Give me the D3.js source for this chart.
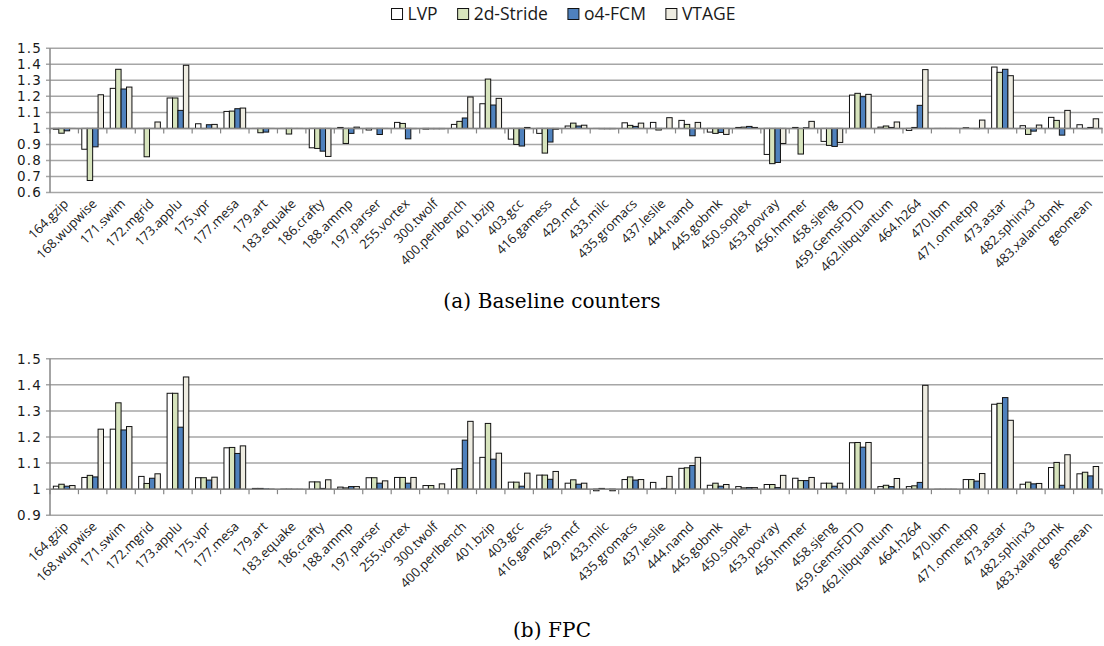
<!DOCTYPE html>
<html>
<head>
<meta charset="utf-8">
<script src="https://cdn.jsdelivr.net/npm/d3@7"></script>
<style>
  html, body { margin: 0; padding: 0; background: #ffffff; }
  svg { display: block; }
</style>
</head>
<body>
<svg id="chart" width="1104" height="646"></svg>
<script>
// ---------- DATA ----------
const categories = ["164.gzip","168.wupwise","171.swim","172.mgrid","173.applu","175.vpr","177.mesa","179.art","183.equake","186.crafty","188.ammp","197.parser","255.vortex","300.twolf","400.perlbench","401.bzip","403.gcc","416.gamess","429.mcf","433.milc","435.gromacs","437.leslie","444.namd","445.gobmk","450.soplex","453.povray","456.hmmer","458.sjeng","459.GemsFDTD","462.libquantum","464.h264","470.lbm","471.omnetpp","473.astar","482.sphinx3","483.xalancbmk","geomean"];
const seriesNames = ["LVP","2d-Stride","o4-FCM","VTAGE"];

// (a) Baseline counters
const lvpA    = [0.995,0.87,1.25,1.0,1.19,1.029,1.106,1.0,1.0,0.879,1.006,0.99,1.0375,0.996,1.025,1.154,0.933,0.969,1.015,1.0,1.035,1.0375,1.05,0.977,1.006,0.8375,1.006,0.919,1.208,1.008,0.9875,1.0,1.004,1.383,1.017,1.069,1.023];
const strideA = [0.97,0.675,1.369,0.823,1.19,0.998,1.108,0.973,0.965,0.875,0.906,1.0,1.031,0.997,1.044,1.308,0.9,0.846,1.033,0.997,1.019,0.99,1.025,0.969,1.008,0.78,0.84,0.894,1.219,1.015,1.006,1.0,1.0,1.35,0.9625,1.05,0.998];
const fcmA    = [0.985,0.885,1.246,1.0,1.1125,1.023,1.123,0.977,1.0,0.858,0.969,0.962,0.935,0.997,1.065,1.146,0.89,0.915,1.015,0.997,1.0125,1.0,0.954,0.975,1.0125,0.7875,1.004,0.8875,1.198,1.006,1.144,1.0,0.998,1.369,0.983,0.958,1.006];
const vtageA  = [1.0,1.21,1.258,1.04,1.394,1.025,1.127,1.0,1.0,0.825,1.008,1.0,0.998,0.997,1.196,1.1875,1.006,0.995,1.02,0.997,1.033,1.067,1.0375,0.9625,1.006,0.906,1.044,0.9125,1.2125,1.04,1.367,1.0,1.052,1.329,1.021,1.1125,1.06];

// (b) FPC
const lvpB    = [1.0115,1.045,1.23,1.049,1.3675,1.044,1.1586,1.003,1.001,1.028,1.008,1.044,1.045,1.014,1.077,1.122,1.027,1.054,1.023,0.994,1.037,1.026,1.08,1.015,1.01,1.018,1.042,1.023,1.178,1.01,1.01,1.0,1.037,1.3255,1.019,1.083,1.059];
const strideB = [1.019,1.053,1.331,1.022,1.3675,1.044,1.16,1.003,1.001,1.028,1.005,1.044,1.045,1.014,1.079,1.252,1.027,1.054,1.036,1.003,1.047,1.001,1.082,1.023,1.005,1.018,1.033,1.023,1.179,1.015,1.013,1.0,1.037,1.329,1.027,1.1026,1.065];
const fcmB    = [1.0115,1.047,1.227,1.042,1.2376,1.035,1.137,1.002,1.0,1.003,1.01,1.023,1.023,1.001,1.188,1.115,1.0115,1.038,1.019,0.999,1.035,1.003,1.091,1.0115,1.006,1.006,1.033,1.0115,1.161,1.01,1.026,1.0,1.031,1.351,1.0205,1.015,1.051];
const vtageB  = [1.014,1.23,1.24,1.059,1.43,1.046,1.166,1.001,1.0,1.036,1.01,1.032,1.045,1.0205,1.26,1.138,1.0615,1.068,1.023,0.994,1.037,1.049,1.122,1.018,1.006,1.053,1.045,1.023,1.179,1.041,1.398,1.0,1.06,1.264,1.022,1.132,1.087];

const ticksA = ["0.6","0.7","0.8","0.9","1","1.1","1.2","1.3","1.4","1.5"];
const ticksB = ["0.9","1","1.1","1.2","1.3","1.4","1.5"];
const captions = ["(a) Baseline counters", "(b) FPC"];

// ---------- STYLE ----------
const colors = ["#ffffff", "#d7e4bd", "#4f81bd", "#eeece1"];
const sansFont = "'Open Sans', 'Noto Sans', sans-serif";
const tickFont = "'DejaVu Sans', 'Liberation Sans', sans-serif";
const serifFont = "'DejaVu Serif', 'Liberation Serif', serif";

const svg = d3.select("#chart");

const x = d3.scaleBand().domain(categories).range([50, 1102]).padding(0);
const xs = d3.scaleBand().domain(seriesNames).range([0, x.bandwidth()]).paddingInner(0).paddingOuter(0.62);

function drawPanel(cfg) {
  const g = svg.append("g");
  const y = d3.scaleLinear().domain(cfg.domain).range(cfg.range);
  const rows = categories.map((c, i) => ({ cat: c, vals: cfg.series.map(s => s[i]) }));

  // gridlines
  g.append("g").selectAll("line").data(cfg.ticks).join("line")
    .attr("x1", 46).attr("x2", 1103)
    .attr("y1", d => y(+d)).attr("y2", d => y(+d))
    .attr("stroke", "#a6a6a6").attr("stroke-width", 1.5);

  // y axis line
  g.append("line").attr("x1", 50).attr("x2", 50)
    .attr("y1", cfg.range[0]).attr("y2", cfg.range[1])
    .attr("stroke", "#868686").attr("stroke-width", 1.5);

  // y labels
  g.append("g").selectAll("text").data(cfg.ticks).join("text")
    .attr("x", 42).attr("y", d => y(+d)).attr("dy", "0.37em")
    .attr("text-anchor", "end")
    .attr("font-family", tickFont).attr("font-size", 13.5).attr("letter-spacing", 1.2)
    .attr("fill", "#1a1a1a")
    .text(d => d);

  // bars
  const groups = g.append("g").selectAll("g").data(rows).join("g")
    .attr("transform", d => `translate(${x(d.cat)},0)`);
  groups.selectAll("rect").data(d => d.vals.map((v, k) => ({ v, k }))).join("rect")
    .attr("x", d => xs(seriesNames[d.k]))
    .attr("width", xs.bandwidth())
    .attr("y", d => Math.min(y(d.v), y(1)))
    .attr("height", d => Math.max(Math.abs(y(d.v) - y(1)), 0.01))
    .attr("fill", d => colors[d.k])
    .attr("stroke", "#111")
    .attr("stroke-width", 1)
    .attr("stroke-opacity", d => Math.abs(y(d.v) - y(1)) < 0.6 ? 0.5 : 1);

  // category axis at 1
  const y1 = y(1);
  g.append("line").attr("x1", 50).attr("x2", 1102).attr("y1", y1).attr("y2", y1)
    .attr("stroke", "#868686").attr("stroke-width", 1.5);
  g.append("g").selectAll("line").data(categories.concat(["__end"])).join("line")
    .attr("x1", d => d === "__end" ? 1102 : x(d))
    .attr("x2", d => d === "__end" ? 1102 : x(d))
    .attr("y1", y1).attr("y2", y1 + 5)
    .attr("stroke", "#868686").attr("stroke-width", 1.2);

  // x labels
  g.append("g").selectAll("text").data(categories).join("text")
    .attr("transform", d => `translate(${x(d) + x.bandwidth() / 2 + 5},${cfg.range[0] + 12}) rotate(-45)`)
    .attr("text-anchor", "end")
    .attr("font-family", sansFont).attr("font-size", 13).attr("fill", "#1a1a1a")
    .text(d => d);

  // caption
  svg.append("text").attr("x", 552).attr("y", cfg.captionY)
    .attr("text-anchor", "middle")
    .attr("font-family", serifFont).attr("font-size", 20).attr("letter-spacing", 0.1)
    .attr("fill", "#000")
    .text(cfg.caption);
}

drawPanel({ domain: [0.6, 1.5], range: [192.5, 48.3], ticks: ticksA,
  series: [lvpA, strideA, fcmA, vtageA], caption: captions[0], captionY: 308 });
drawPanel({ domain: [0.9, 1.5], range: [515.3, 358.7], ticks: ticksB,
  series: [lvpB, strideB, fcmB, vtageB], caption: captions[1], captionY: 637 });

// legend
const legend = svg.append("g");
let lx = 0;
const items = legend.selectAll("g").data(seriesNames).join("g");
items.append("rect").attr("x", 0).attr("y", -5.5).attr("width", 11).attr("height", 11)
  .attr("fill", (d, i) => colors[i]).attr("stroke", "#111").attr("stroke-width", 1);
items.append("text").attr("x", 16).attr("y", 0).attr("dy", "0.36em")
  .attr("font-family", sansFont).attr("font-size", 17.5).attr("fill", "#1a1a1a")
  .text(d => d);
items.each(function () {
  const w = this.querySelector("text").getComputedTextLength();
  d3.select(this).attr("transform", `translate(${lx},14)`);
  lx += 16 + w + 20;
});
const total = lx - 20;
legend.attr("transform", `translate(${563.5 - total / 2},0)`);
</script>
</body>
</html>
